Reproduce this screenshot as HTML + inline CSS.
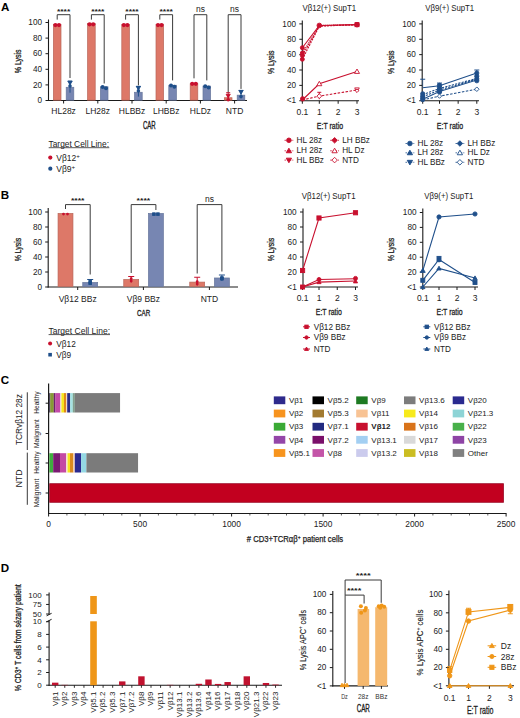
<!DOCTYPE html>
<html><head><meta charset="utf-8"><style>
html,body{margin:0;padding:0;background:#fff;width:520px;height:718px;overflow:hidden}
svg{display:block;font-family:"Liberation Sans", sans-serif}
</style></head><body>
<svg width="520" height="718" viewBox="0 0 520 718" font-family='"Liberation Sans", sans-serif'>
<text x="0.90" y="10.65" font-size="11.6" text-anchor="start" fill="#000" font-weight="bold" >A</text>
<line x1="48.50" y1="19.50" x2="48.50" y2="101.00" stroke="#1a1a1a" stroke-width="1.1"/>
<line x1="48.00" y1="100.50" x2="247.00" y2="100.50" stroke="#1a1a1a" stroke-width="1.1"/>
<line x1="45.50" y1="100.50" x2="48.50" y2="100.50" stroke="#1a1a1a" stroke-width="1"/>
<text x="42.00" y="103.20" font-size="8.2" text-anchor="end" fill="#222" >0</text>
<line x1="45.50" y1="84.90" x2="48.50" y2="84.90" stroke="#1a1a1a" stroke-width="1"/>
<text x="42.00" y="87.60" font-size="8.2" text-anchor="end" fill="#222" >20</text>
<line x1="45.50" y1="69.30" x2="48.50" y2="69.30" stroke="#1a1a1a" stroke-width="1"/>
<text x="42.00" y="72.00" font-size="8.2" text-anchor="end" fill="#222" >40</text>
<line x1="45.50" y1="53.70" x2="48.50" y2="53.70" stroke="#1a1a1a" stroke-width="1"/>
<text x="42.00" y="56.40" font-size="8.2" text-anchor="end" fill="#222" >60</text>
<line x1="45.50" y1="38.10" x2="48.50" y2="38.10" stroke="#1a1a1a" stroke-width="1"/>
<text x="42.00" y="40.80" font-size="8.2" text-anchor="end" fill="#222" >80</text>
<line x1="45.50" y1="22.50" x2="48.50" y2="22.50" stroke="#1a1a1a" stroke-width="1"/>
<text x="42.00" y="25.20" font-size="8.2" text-anchor="end" fill="#222" >100</text>
<text x="20.60" y="61.30" font-size="9.6" text-anchor="middle" fill="#222" stroke="#222" stroke-width="0.3" textLength="23.8" lengthAdjust="spacingAndGlyphs" transform="rotate(-90 20.60 61.30)" >% Lysis</text>
<rect x="53.40" y="24.41" width="7.60" height="75.74" fill="#dd7868" stroke="#b86458" stroke-width="0.7"/>
<rect x="66.20" y="87.28" width="7.60" height="12.87" fill="#7786b2" stroke="#66769c" stroke-width="0.7"/>
<line x1="63.60" y1="100.50" x2="63.60" y2="103.50" stroke="#1a1a1a" stroke-width="1"/>
<text x="63.60" y="114.30" font-size="8.5" text-anchor="middle" fill="#222" >HL28z</text>
<circle cx="55.40" cy="25.06" r="2.1" fill="#c8102e"/>
<circle cx="59.00" cy="25.06" r="2.1" fill="#c8102e"/>
<line x1="70.00" y1="81.23" x2="70.00" y2="92.70" stroke="#1f4f8a" stroke-width="1"/>
<line x1="67.80" y1="81.23" x2="72.20" y2="81.23" stroke="#1f4f8a" stroke-width="1"/>
<polygon points="70.00,84.92 72.19,81.12 67.81,81.12" fill="#1f4f8a" stroke="#1f4f8a" stroke-width="0.9"/>
<circle cx="70.00" cy="85.93" r="1.8" fill="#1f4f8a"/>
<polyline points="57.20,19.60 57.20,14.70 70.00,14.70 70.00,78.00" fill="none" stroke="#3a3a3a" stroke-width="1"/>
<text x="63.60" y="13.50" font-size="8" text-anchor="middle" fill="#222" font-weight="bold" textLength="13.3" lengthAdjust="spacingAndGlyphs" >****</text>
<rect x="87.60" y="23.63" width="7.60" height="76.52" fill="#dd7868" stroke="#b86458" stroke-width="0.7"/>
<rect x="100.40" y="86.81" width="7.60" height="13.34" fill="#7786b2" stroke="#66769c" stroke-width="0.7"/>
<line x1="97.80" y1="100.50" x2="97.80" y2="103.50" stroke="#1a1a1a" stroke-width="1"/>
<text x="97.80" y="114.30" font-size="8.5" text-anchor="middle" fill="#222" >LH28z</text>
<circle cx="89.60" cy="24.28" r="2.1" fill="#c8102e"/>
<circle cx="93.20" cy="24.28" r="2.1" fill="#c8102e"/>
<circle cx="102.60" cy="86.96" r="2.0" fill="#1f4f8a"/>
<circle cx="106.00" cy="88.26" r="2.0" fill="#1f4f8a"/>
<polyline points="91.40,19.60 91.40,14.70 104.20,14.70 104.20,83.50" fill="none" stroke="#3a3a3a" stroke-width="1"/>
<text x="97.80" y="13.50" font-size="8" text-anchor="middle" fill="#222" font-weight="bold" textLength="13.3" lengthAdjust="spacingAndGlyphs" >****</text>
<rect x="121.80" y="24.41" width="7.60" height="75.74" fill="#dd7868" stroke="#b86458" stroke-width="0.7"/>
<rect x="134.60" y="92.27" width="7.60" height="7.88" fill="#7786b2" stroke="#66769c" stroke-width="0.7"/>
<line x1="132.00" y1="100.50" x2="132.00" y2="103.50" stroke="#1a1a1a" stroke-width="1"/>
<text x="132.00" y="114.30" font-size="8.5" text-anchor="middle" fill="#222" >HLBBz</text>
<circle cx="123.80" cy="25.06" r="2.1" fill="#c8102e"/>
<circle cx="127.40" cy="25.06" r="2.1" fill="#c8102e"/>
<line x1="138.40" y1="86.46" x2="138.40" y2="96.60" stroke="#1f4f8a" stroke-width="1"/>
<line x1="136.20" y1="86.46" x2="140.60" y2="86.46" stroke="#1f4f8a" stroke-width="1"/>
<polygon points="138.40,90.14 140.59,86.34 136.22,86.34" fill="#1f4f8a" stroke="#1f4f8a" stroke-width="0.9"/>
<circle cx="138.40" cy="90.92" r="1.8" fill="#1f4f8a"/>
<polyline points="125.60,19.60 125.60,14.70 138.40,14.70 138.40,85.40" fill="none" stroke="#3a3a3a" stroke-width="1"/>
<text x="132.00" y="13.50" font-size="8" text-anchor="middle" fill="#222" font-weight="bold" textLength="13.3" lengthAdjust="spacingAndGlyphs" >****</text>
<rect x="156.00" y="24.41" width="7.60" height="75.74" fill="#dd7868" stroke="#b86458" stroke-width="0.7"/>
<rect x="168.80" y="85.25" width="7.60" height="14.90" fill="#7786b2" stroke="#66769c" stroke-width="0.7"/>
<line x1="166.20" y1="100.50" x2="166.20" y2="103.50" stroke="#1a1a1a" stroke-width="1"/>
<text x="166.20" y="114.30" font-size="8.5" text-anchor="middle" fill="#222" >LHBBz</text>
<circle cx="158.00" cy="25.06" r="2.1" fill="#c8102e"/>
<circle cx="161.60" cy="25.06" r="2.1" fill="#c8102e"/>
<circle cx="171.00" cy="85.40" r="2.0" fill="#1f4f8a"/>
<circle cx="174.40" cy="86.70" r="2.0" fill="#1f4f8a"/>
<polyline points="159.80,19.60 159.80,14.70 172.60,14.70 172.60,80.40" fill="none" stroke="#3a3a3a" stroke-width="1"/>
<text x="166.20" y="13.50" font-size="8" text-anchor="middle" fill="#222" font-weight="bold" textLength="13.3" lengthAdjust="spacingAndGlyphs" >****</text>
<rect x="190.20" y="83.69" width="7.60" height="16.46" fill="#dd7868" stroke="#b86458" stroke-width="0.7"/>
<rect x="203.00" y="86.03" width="7.60" height="14.12" fill="#7786b2" stroke="#66769c" stroke-width="0.7"/>
<line x1="200.40" y1="100.50" x2="200.40" y2="103.50" stroke="#1a1a1a" stroke-width="1"/>
<text x="200.40" y="114.30" font-size="8.5" text-anchor="middle" fill="#222" >HLDz</text>
<circle cx="192.20" cy="83.84" r="2.1" fill="#c8102e"/>
<circle cx="195.80" cy="83.84" r="2.1" fill="#c8102e"/>
<circle cx="205.20" cy="86.18" r="2.0" fill="#1f4f8a"/>
<circle cx="208.60" cy="87.48" r="2.0" fill="#1f4f8a"/>
<polyline points="194.00,78.34 194.00,14.70 206.80,14.70 206.80,80.40" fill="none" stroke="#3a3a3a" stroke-width="1"/>
<text x="200.40" y="11.70" font-size="8.5" text-anchor="middle" fill="#222" >ns</text>
<rect x="224.40" y="97.73" width="7.60" height="2.42" fill="#dd7868" stroke="#b86458" stroke-width="0.7"/>
<rect x="237.20" y="95.16" width="7.60" height="4.99" fill="#7786b2" stroke="#66769c" stroke-width="0.7"/>
<line x1="234.60" y1="100.50" x2="234.60" y2="103.50" stroke="#1a1a1a" stroke-width="1"/>
<text x="234.60" y="114.30" font-size="8.5" text-anchor="middle" fill="#222" >NTD</text>
<line x1="228.20" y1="92.70" x2="228.20" y2="99.72" stroke="#c8102e" stroke-width="1"/>
<line x1="226.20" y1="92.70" x2="230.20" y2="92.70" stroke="#c8102e" stroke-width="1"/>
<polygon points="228.20,97.89 230.27,94.29 226.13,94.29" fill="#c8102e" stroke="#c8102e" stroke-width="0.9"/>
<circle cx="228.20" cy="99.72" r="1.8" fill="#c8102e"/>
<line x1="241.00" y1="90.52" x2="241.00" y2="98.16" stroke="#1f4f8a" stroke-width="1"/>
<line x1="238.80" y1="90.52" x2="243.20" y2="90.52" stroke="#1f4f8a" stroke-width="1"/>
<polygon points="241.00,94.20 243.19,90.40 238.81,90.40" fill="#1f4f8a" stroke="#1f4f8a" stroke-width="0.9"/>
<circle cx="241.00" cy="96.60" r="1.8" fill="#1f4f8a"/>
<polyline points="228.20,92.38 228.20,14.70 241.00,14.70 241.00,88.90" fill="none" stroke="#3a3a3a" stroke-width="1"/>
<text x="234.60" y="11.70" font-size="8.5" text-anchor="middle" fill="#222" >ns</text>
<text x="149.30" y="129.40" font-size="10.3" text-anchor="middle" fill="#222" stroke="#222" stroke-width="0.35" textLength="12.8" lengthAdjust="spacingAndGlyphs" >CAR</text>
<text x="48.50" y="147.30" font-size="8.5" text-anchor="start" fill="#222" textLength="60.5" lengthAdjust="spacingAndGlyphs" >Target Cell Line:</text>
<line x1="48.70" y1="147.70" x2="109.30" y2="147.70" stroke="#222" stroke-width="0.75"/>
<circle cx="50.30" cy="157.60" r="2.1" fill="#c8102e"/>
<text x="56.30" y="161.00" font-size="8.5" text-anchor="start" fill="#222" >V&#946;12<tspan font-size="6.2" dy="-3.2">+</tspan></text>
<circle cx="50.30" cy="168.70" r="2.1" fill="#1f4f8a"/>
<text x="56.30" y="171.80" font-size="8.5" text-anchor="start" fill="#222" >V&#946;9<tspan font-size="6.2" dy="-3.2">+</tspan></text>
<line x1="302.30" y1="20.60" x2="302.30" y2="101.25" stroke="#1a1a1a" stroke-width="1.1"/>
<line x1="301.80" y1="100.75" x2="359.00" y2="100.75" stroke="#1a1a1a" stroke-width="1.1"/>
<line x1="299.30" y1="100.75" x2="302.30" y2="100.75" stroke="#1a1a1a" stroke-width="1"/>
<text x="296.00" y="103.45" font-size="8.2" text-anchor="end" fill="#222" >&lt;1</text>
<line x1="299.30" y1="85.38" x2="302.30" y2="85.38" stroke="#1a1a1a" stroke-width="1"/>
<text x="296.00" y="88.08" font-size="8.2" text-anchor="end" fill="#222" >20</text>
<line x1="299.30" y1="70.01" x2="302.30" y2="70.01" stroke="#1a1a1a" stroke-width="1"/>
<text x="296.00" y="72.71" font-size="8.2" text-anchor="end" fill="#222" >40</text>
<line x1="299.30" y1="54.64" x2="302.30" y2="54.64" stroke="#1a1a1a" stroke-width="1"/>
<text x="296.00" y="57.34" font-size="8.2" text-anchor="end" fill="#222" >60</text>
<line x1="299.30" y1="39.27" x2="302.30" y2="39.27" stroke="#1a1a1a" stroke-width="1"/>
<text x="296.00" y="41.97" font-size="8.2" text-anchor="end" fill="#222" >80</text>
<line x1="299.30" y1="23.90" x2="302.30" y2="23.90" stroke="#1a1a1a" stroke-width="1"/>
<text x="296.00" y="26.60" font-size="8.2" text-anchor="end" fill="#222" >100</text>
<line x1="302.34" y1="100.75" x2="302.34" y2="103.75" stroke="#1a1a1a" stroke-width="1"/>
<text x="302.34" y="114.80" font-size="8.5" text-anchor="middle" fill="#222" >0.1</text>
<line x1="319.30" y1="100.75" x2="319.30" y2="103.75" stroke="#1a1a1a" stroke-width="1"/>
<text x="319.30" y="114.80" font-size="8.5" text-anchor="middle" fill="#222" >1</text>
<line x1="338.15" y1="100.75" x2="338.15" y2="103.75" stroke="#1a1a1a" stroke-width="1"/>
<text x="338.15" y="114.80" font-size="8.5" text-anchor="middle" fill="#222" >2</text>
<line x1="357.00" y1="100.75" x2="357.00" y2="103.75" stroke="#1a1a1a" stroke-width="1"/>
<text x="357.00" y="114.80" font-size="8.5" text-anchor="middle" fill="#222" >3</text>
<text x="329.30" y="11.10" font-size="8.3" text-anchor="middle" fill="#222" textLength="53.8" lengthAdjust="spacingAndGlyphs" >V&#946;12(+) SupT1</text>
<text x="274.20" y="62.30" font-size="9.6" text-anchor="middle" fill="#222" stroke="#222" stroke-width="0.3" textLength="23.5" lengthAdjust="spacingAndGlyphs" transform="rotate(-90 274.20 62.30)" >% Lysis</text>
<polyline points="302.34,47.72 319.30,25.44 357.00,24.67" fill="none" stroke="#c8102e" stroke-width="1.1"/>
<polyline points="302.34,55.41 319.30,25.82 357.00,24.67" fill="none" stroke="#c8102e" stroke-width="1.1" stroke-dasharray="2,1"/>
<polyline points="302.34,59.25 319.30,26.21 357.00,24.67" fill="none" stroke="#c8102e" stroke-width="1.1" stroke-dasharray="2,1"/>
<polyline points="302.34,53.10 319.30,25.44 357.00,24.67" fill="none" stroke="#c8102e" stroke-width="1.1" stroke-dasharray="1,1"/>
<circle cx="302.34" cy="47.72" r="2.0" fill="#c8102e" stroke="#c8102e" stroke-width="0.9"/>
<circle cx="302.34" cy="55.41" r="2.0" fill="#c8102e" stroke="#c8102e" stroke-width="0.9"/>
<circle cx="302.34" cy="59.25" r="2.0" fill="#c8102e" stroke="#c8102e" stroke-width="0.9"/>
<circle cx="302.34" cy="53.10" r="2.0" fill="#c8102e" stroke="#c8102e" stroke-width="0.9"/>
<circle cx="319.30" cy="25.44" r="2.3" fill="#c8102e" stroke="#c8102e" stroke-width="0.9"/>
<rect x="355.00" y="22.67" width="4.00" height="4.00" fill="#c8102e" stroke="#c8102e" stroke-width="0.9"/>
<circle cx="357.00" cy="24.67" r="2.3" fill="#c8102e" stroke="#c8102e" stroke-width="0.9"/>
<polyline points="302.34,99.98 319.30,83.84 357.00,71.55" fill="none" stroke="#c8102e" stroke-width="1.1"/>
<polyline points="302.34,99.98 319.30,96.14 357.00,89.99" fill="none" stroke="#c8102e" stroke-width="1.1" stroke-dasharray="2.5,1.5"/>
<circle cx="302.64" cy="98.83" r="2.2" fill="#c8102e" stroke="#c8102e" stroke-width="0.9"/>
<polygon points="319.30,81.31 321.83,85.71 316.77,85.71" fill="#fff" stroke="#c8102e" stroke-width="0.9"/>
<polygon points="357.00,69.02 359.53,73.42 354.47,73.42" fill="#fff" stroke="#c8102e" stroke-width="0.9"/>
<line x1="319.30" y1="92.30" x2="319.30" y2="99.21" stroke="#c8102e" stroke-width="1"/>
<line x1="317.30" y1="92.30" x2="321.30" y2="92.30" stroke="#c8102e" stroke-width="1"/>
<polygon points="319.30,93.74 321.70,96.14 319.30,98.54 316.90,96.14" fill="#fff" stroke="#c8102e" stroke-width="0.9"/>
<polygon points="357.00,91.91 359.30,87.91 354.70,87.91" fill="#fff" stroke="#c8102e" stroke-width="0.9"/>
<polygon points="357.00,88.96 358.80,90.76 357.00,92.56 355.20,90.76" fill="#fff" stroke="#c8102e" stroke-width="0.9"/>
<text x="329.95" y="129.00" font-size="9.8" text-anchor="middle" fill="#222" stroke="#222" stroke-width="0.3" textLength="26.3" lengthAdjust="spacingAndGlyphs" >E:T ratio</text>
<line x1="284.50" y1="140.30" x2="293.30" y2="140.30" stroke="#c8102e" stroke-width="0.8" stroke-dasharray="1.6,1"/>
<circle cx="288.90" cy="140.30" r="2.3" fill="#c8102e" stroke="#c8102e" stroke-width="0.9"/>
<text x="296.50" y="142.90" font-size="8.2" text-anchor="start" fill="#222" >HL 28z</text>
<line x1="284.50" y1="150.80" x2="293.30" y2="150.80" stroke="#c8102e" stroke-width="0.8" stroke-dasharray="1.6,1"/>
<polygon points="288.90,148.16 291.54,152.76 286.25,152.76" fill="#c8102e" stroke="#c8102e" stroke-width="0.9"/>
<text x="296.50" y="153.40" font-size="8.2" text-anchor="start" fill="#222" >LH 28z</text>
<line x1="284.50" y1="160.10" x2="293.30" y2="160.10" stroke="#c8102e" stroke-width="0.8" stroke-dasharray="1.6,1"/>
<polygon points="288.90,162.75 291.54,158.15 286.25,158.15" fill="#c8102e" stroke="#c8102e" stroke-width="0.9"/>
<text x="296.50" y="162.70" font-size="8.2" text-anchor="start" fill="#222" >HL BBz</text>
<line x1="330.20" y1="140.30" x2="339.00" y2="140.30" stroke="#c8102e" stroke-width="0.8" stroke-dasharray="1.6,1"/>
<polygon points="334.60,137.54 337.36,140.30 334.60,143.06 331.84,140.30" fill="#c8102e" stroke="#c8102e" stroke-width="0.9"/>
<text x="342.20" y="142.90" font-size="8.2" text-anchor="start" fill="#222" >LH BBz</text>
<line x1="330.20" y1="150.80" x2="339.00" y2="150.80" stroke="#c8102e" stroke-width="0.8" stroke-dasharray="1.6,1"/>
<polygon points="334.60,148.16 337.24,152.76 331.95,152.76" fill="#fff" stroke="#c8102e" stroke-width="0.9"/>
<text x="342.20" y="153.40" font-size="8.2" text-anchor="start" fill="#222" >HL Dz</text>
<line x1="330.20" y1="160.10" x2="339.00" y2="160.10" stroke="#c8102e" stroke-width="0.8" stroke-dasharray="1.6,1"/>
<polygon points="334.60,157.34 337.36,160.10 334.60,162.86 331.84,160.10" fill="#fff" stroke="#c8102e" stroke-width="0.9"/>
<text x="342.20" y="162.70" font-size="8.2" text-anchor="start" fill="#222" >NTD</text>
<line x1="422.20" y1="20.60" x2="422.20" y2="101.25" stroke="#1a1a1a" stroke-width="1.1"/>
<line x1="421.70" y1="100.75" x2="479.00" y2="100.75" stroke="#1a1a1a" stroke-width="1.1"/>
<line x1="419.20" y1="100.75" x2="422.20" y2="100.75" stroke="#1a1a1a" stroke-width="1"/>
<text x="415.90" y="103.45" font-size="8.2" text-anchor="end" fill="#222" >&lt;1</text>
<line x1="419.20" y1="85.38" x2="422.20" y2="85.38" stroke="#1a1a1a" stroke-width="1"/>
<text x="415.90" y="88.08" font-size="8.2" text-anchor="end" fill="#222" >20</text>
<line x1="419.20" y1="70.01" x2="422.20" y2="70.01" stroke="#1a1a1a" stroke-width="1"/>
<text x="415.90" y="72.71" font-size="8.2" text-anchor="end" fill="#222" >40</text>
<line x1="419.20" y1="54.64" x2="422.20" y2="54.64" stroke="#1a1a1a" stroke-width="1"/>
<text x="415.90" y="57.34" font-size="8.2" text-anchor="end" fill="#222" >60</text>
<line x1="419.20" y1="39.27" x2="422.20" y2="39.27" stroke="#1a1a1a" stroke-width="1"/>
<text x="415.90" y="41.97" font-size="8.2" text-anchor="end" fill="#222" >80</text>
<line x1="419.20" y1="23.90" x2="422.20" y2="23.90" stroke="#1a1a1a" stroke-width="1"/>
<text x="415.90" y="26.60" font-size="8.2" text-anchor="end" fill="#222" >100</text>
<line x1="422.71" y1="100.75" x2="422.71" y2="103.75" stroke="#1a1a1a" stroke-width="1"/>
<text x="422.71" y="114.80" font-size="8.5" text-anchor="middle" fill="#222" >0.1</text>
<line x1="439.50" y1="100.75" x2="439.50" y2="103.75" stroke="#1a1a1a" stroke-width="1"/>
<text x="439.50" y="114.80" font-size="8.5" text-anchor="middle" fill="#222" >1</text>
<line x1="458.15" y1="100.75" x2="458.15" y2="103.75" stroke="#1a1a1a" stroke-width="1"/>
<text x="458.15" y="114.80" font-size="8.5" text-anchor="middle" fill="#222" >2</text>
<line x1="476.80" y1="100.75" x2="476.80" y2="103.75" stroke="#1a1a1a" stroke-width="1"/>
<text x="476.80" y="114.80" font-size="8.5" text-anchor="middle" fill="#222" >3</text>
<text x="449.70" y="11.10" font-size="8.3" text-anchor="middle" fill="#222" textLength="49" lengthAdjust="spacingAndGlyphs" >V&#946;9(+) SupT1</text>
<text x="394.20" y="62.30" font-size="9.6" text-anchor="middle" fill="#222" stroke="#222" stroke-width="0.3" textLength="23.5" lengthAdjust="spacingAndGlyphs" transform="rotate(-90 394.20 62.30)" >% Lysis</text>
<polyline points="422.71,87.69 439.50,85.76 476.80,73.08" fill="none" stroke="#1f4f8a" stroke-width="1.1"/>
<polyline points="422.71,94.60 439.50,88.45 476.80,78.46" fill="none" stroke="#1f4f8a" stroke-width="1.1" stroke-dasharray="2.2,1.2"/>
<polyline points="422.71,96.91 439.50,89.99 476.80,79.23" fill="none" stroke="#1f4f8a" stroke-width="1.1" stroke-dasharray="2.2,1.2"/>
<polyline points="422.71,99.21 439.50,91.53 476.80,80.00" fill="none" stroke="#1f4f8a" stroke-width="1.1"/>
<polyline points="422.71,99.98 439.50,96.14 476.80,89.22" fill="none" stroke="#1f4f8a" stroke-width="1.1" stroke-dasharray="2.5,1.5"/>
<line x1="420.21" y1="79.23" x2="425.21" y2="79.23" stroke="#1f4f8a" stroke-width="1"/>
<line x1="422.71" y1="79.23" x2="422.71" y2="86.92" stroke="#1f4f8a" stroke-width="0.6"/>
<line x1="439.50" y1="83.07" x2="439.50" y2="93.06" stroke="#1f4f8a" stroke-width="1"/>
<line x1="437.00" y1="83.07" x2="442.00" y2="83.07" stroke="#1f4f8a" stroke-width="1"/>
<line x1="476.80" y1="70.01" x2="476.80" y2="82.31" stroke="#1f4f8a" stroke-width="1"/>
<line x1="474.30" y1="70.01" x2="479.30" y2="70.01" stroke="#1f4f8a" stroke-width="1"/>
<circle cx="422.71" cy="93.83" r="2.1" fill="#1f4f8a" stroke="#1f4f8a" stroke-width="0.9"/>
<circle cx="422.71" cy="96.14" r="2.1" fill="#1f4f8a" stroke="#1f4f8a" stroke-width="0.9"/>
<circle cx="422.71" cy="98.06" r="2.1" fill="#1f4f8a" stroke="#1f4f8a" stroke-width="0.9"/>
<circle cx="422.71" cy="99.60" r="2.1" fill="#1f4f8a" stroke="#1f4f8a" stroke-width="0.9"/>
<circle cx="439.50" cy="85.38" r="2.2" fill="#1f4f8a" stroke="#1f4f8a" stroke-width="0.9"/>
<circle cx="439.50" cy="87.69" r="2.2" fill="#1f4f8a" stroke="#1f4f8a" stroke-width="0.9"/>
<circle cx="439.50" cy="89.99" r="2.2" fill="#1f4f8a" stroke="#1f4f8a" stroke-width="0.9"/>
<circle cx="439.50" cy="91.91" r="2.2" fill="#1f4f8a" stroke="#1f4f8a" stroke-width="0.9"/>
<polygon points="439.50,93.98 441.66,96.14 439.50,98.30 437.34,96.14" fill="#fff" stroke="#1f4f8a" stroke-width="0.9"/>
<circle cx="476.80" cy="73.08" r="2.1" fill="#1f4f8a" stroke="#1f4f8a" stroke-width="0.9"/>
<circle cx="476.80" cy="76.16" r="2.1" fill="#1f4f8a" stroke="#1f4f8a" stroke-width="0.9"/>
<circle cx="476.80" cy="78.85" r="2.1" fill="#1f4f8a" stroke="#1f4f8a" stroke-width="0.9"/>
<circle cx="476.80" cy="80.77" r="2.1" fill="#1f4f8a" stroke="#1f4f8a" stroke-width="0.9"/>
<polygon points="476.80,86.94 479.08,89.22 476.80,91.50 474.52,89.22" fill="#fff" stroke="#1f4f8a" stroke-width="0.9"/>
<text x="450.00" y="129.00" font-size="9.8" text-anchor="middle" fill="#222" stroke="#222" stroke-width="0.3" textLength="26.4" lengthAdjust="spacingAndGlyphs" >E:T ratio</text>
<line x1="405.50" y1="143.50" x2="414.30" y2="143.50" stroke="#1f4f8a" stroke-width="0.8" stroke-dasharray="1.6,1"/>
<circle cx="409.90" cy="143.50" r="2.3" fill="#1f4f8a" stroke="#1f4f8a" stroke-width="0.9"/>
<text x="417.50" y="146.10" font-size="8.2" text-anchor="start" fill="#222" >HL 28z</text>
<line x1="405.50" y1="152.80" x2="414.30" y2="152.80" stroke="#1f4f8a" stroke-width="0.8" stroke-dasharray="1.6,1"/>
<polygon points="409.90,150.16 412.54,154.76 407.25,154.76" fill="#1f4f8a" stroke="#1f4f8a" stroke-width="0.9"/>
<text x="417.50" y="155.40" font-size="8.2" text-anchor="start" fill="#222" >LH 28z</text>
<line x1="405.50" y1="162.30" x2="414.30" y2="162.30" stroke="#1f4f8a" stroke-width="0.8" stroke-dasharray="1.6,1"/>
<polygon points="409.90,164.95 412.54,160.34 407.25,160.34" fill="#1f4f8a" stroke="#1f4f8a" stroke-width="0.9"/>
<text x="417.50" y="164.90" font-size="8.2" text-anchor="start" fill="#222" >HL BBz</text>
<line x1="455.50" y1="143.50" x2="464.30" y2="143.50" stroke="#1f4f8a" stroke-width="0.8" stroke-dasharray="1.6,1"/>
<polygon points="459.90,140.74 462.66,143.50 459.90,146.26 457.14,143.50" fill="#1f4f8a" stroke="#1f4f8a" stroke-width="0.9"/>
<text x="467.50" y="146.10" font-size="8.2" text-anchor="start" fill="#222" >LH BBz</text>
<line x1="455.50" y1="152.80" x2="464.30" y2="152.80" stroke="#1f4f8a" stroke-width="0.8" stroke-dasharray="1.6,1"/>
<polygon points="459.90,150.16 462.54,154.76 457.25,154.76" fill="#fff" stroke="#1f4f8a" stroke-width="0.9"/>
<text x="467.50" y="155.40" font-size="8.2" text-anchor="start" fill="#222" >HL Dz</text>
<line x1="455.50" y1="162.30" x2="464.30" y2="162.30" stroke="#1f4f8a" stroke-width="0.8" stroke-dasharray="1.6,1"/>
<polygon points="459.90,159.54 462.66,162.30 459.90,165.06 457.14,162.30" fill="#fff" stroke="#1f4f8a" stroke-width="0.9"/>
<text x="467.50" y="164.90" font-size="8.2" text-anchor="start" fill="#222" >NTD</text>
<text x="0.70" y="198.60" font-size="11.6" text-anchor="start" fill="#000" font-weight="bold" >B</text>
<line x1="48.20" y1="208.00" x2="48.20" y2="287.50" stroke="#1a1a1a" stroke-width="1.1"/>
<line x1="47.70" y1="287.00" x2="238.00" y2="287.00" stroke="#1a1a1a" stroke-width="1.1"/>
<line x1="45.20" y1="287.00" x2="48.20" y2="287.00" stroke="#1a1a1a" stroke-width="1"/>
<text x="42.00" y="289.70" font-size="8.2" text-anchor="end" fill="#222" >0</text>
<line x1="45.20" y1="272.00" x2="48.20" y2="272.00" stroke="#1a1a1a" stroke-width="1"/>
<text x="42.00" y="274.70" font-size="8.2" text-anchor="end" fill="#222" >20</text>
<line x1="45.20" y1="257.00" x2="48.20" y2="257.00" stroke="#1a1a1a" stroke-width="1"/>
<text x="42.00" y="259.70" font-size="8.2" text-anchor="end" fill="#222" >40</text>
<line x1="45.20" y1="242.00" x2="48.20" y2="242.00" stroke="#1a1a1a" stroke-width="1"/>
<text x="42.00" y="244.70" font-size="8.2" text-anchor="end" fill="#222" >60</text>
<line x1="45.20" y1="227.00" x2="48.20" y2="227.00" stroke="#1a1a1a" stroke-width="1"/>
<text x="42.00" y="229.70" font-size="8.2" text-anchor="end" fill="#222" >80</text>
<line x1="45.20" y1="212.00" x2="48.20" y2="212.00" stroke="#1a1a1a" stroke-width="1"/>
<text x="42.00" y="214.70" font-size="8.2" text-anchor="end" fill="#222" >100</text>
<text x="20.60" y="249.50" font-size="9.6" text-anchor="middle" fill="#222" stroke="#222" stroke-width="0.3" textLength="23.5" lengthAdjust="spacingAndGlyphs" transform="rotate(-90 20.60 249.50)" >% Lysis</text>
<rect x="58.05" y="213.47" width="14.90" height="73.17" fill="#dd7868" stroke="#b86458" stroke-width="0.7"/>
<rect x="82.75" y="282.48" width="14.90" height="4.17" fill="#7786b2" stroke="#66769c" stroke-width="0.7"/>
<line x1="77.70" y1="287.00" x2="77.70" y2="290.00" stroke="#1a1a1a" stroke-width="1"/>
<text x="77.70" y="301.80" font-size="8.5" text-anchor="middle" fill="#222" >V&#946;12 BBz</text>
<circle cx="63.50" cy="214.12" r="1.4" fill="#c8102e"/>
<circle cx="67.50" cy="214.12" r="1.4" fill="#c8102e"/>
<line x1="90.20" y1="279.50" x2="90.20" y2="284.75" stroke="#1f4f8a" stroke-width="1"/>
<line x1="87.20" y1="279.50" x2="93.20" y2="279.50" stroke="#1f4f8a" stroke-width="1"/>
<rect x="88.90" y="281.95" width="2.60" height="2.60" fill="#1f4f8a" stroke="#1f4f8a" stroke-width="0.9"/>
<rect x="88.90" y="280.45" width="2.60" height="2.60" fill="#1f4f8a" stroke="#1f4f8a" stroke-width="0.9"/>
<polyline points="65.50,209.00 65.50,204.60 90.20,204.60 90.20,274.50" fill="none" stroke="#3a3a3a" stroke-width="1"/>
<text x="77.70" y="203.20" font-size="8" text-anchor="middle" fill="#222" font-weight="bold" textLength="13.6" lengthAdjust="spacingAndGlyphs" >****</text>
<rect x="123.75" y="279.48" width="14.90" height="7.17" fill="#dd7868" stroke="#b86458" stroke-width="0.7"/>
<rect x="148.45" y="213.47" width="14.90" height="73.17" fill="#7786b2" stroke="#66769c" stroke-width="0.7"/>
<line x1="143.40" y1="287.00" x2="143.40" y2="290.00" stroke="#1a1a1a" stroke-width="1"/>
<text x="143.40" y="301.80" font-size="8.5" text-anchor="middle" fill="#222" >V&#946;9 BBz</text>
<line x1="131.20" y1="276.50" x2="131.20" y2="282.50" stroke="#c8102e" stroke-width="1"/>
<line x1="128.20" y1="276.50" x2="134.20" y2="276.50" stroke="#c8102e" stroke-width="1"/>
<circle cx="131.20" cy="281.00" r="1.4" fill="#c8102e"/>
<circle cx="131.20" cy="278.75" r="1.4" fill="#c8102e"/>
<rect x="152.60" y="212.82" width="2.60" height="2.60" fill="#1f4f8a" stroke="#1f4f8a" stroke-width="0.9"/>
<rect x="156.60" y="212.82" width="2.60" height="2.60" fill="#1f4f8a" stroke="#1f4f8a" stroke-width="0.9"/>
<polyline points="131.20,273.00 131.20,204.60 155.90,204.60 155.90,210.00" fill="none" stroke="#3a3a3a" stroke-width="1"/>
<text x="143.40" y="203.20" font-size="8" text-anchor="middle" fill="#222" font-weight="bold" textLength="13.6" lengthAdjust="spacingAndGlyphs" >****</text>
<rect x="189.75" y="282.10" width="14.90" height="4.55" fill="#dd7868" stroke="#b86458" stroke-width="0.7"/>
<rect x="214.45" y="277.98" width="14.90" height="8.68" fill="#7786b2" stroke="#66769c" stroke-width="0.7"/>
<line x1="209.40" y1="287.00" x2="209.40" y2="290.00" stroke="#1a1a1a" stroke-width="1"/>
<text x="209.40" y="301.80" font-size="8.5" text-anchor="middle" fill="#222" >NTD</text>
<line x1="197.20" y1="277.25" x2="197.20" y2="285.50" stroke="#c8102e" stroke-width="1"/>
<line x1="194.20" y1="277.25" x2="200.20" y2="277.25" stroke="#c8102e" stroke-width="1"/>
<circle cx="197.20" cy="281.75" r="1.4" fill="#c8102e"/>
<circle cx="197.20" cy="284.00" r="1.4" fill="#c8102e"/>
<line x1="221.90" y1="275.00" x2="221.90" y2="281.00" stroke="#1f4f8a" stroke-width="1"/>
<line x1="218.90" y1="275.00" x2="224.90" y2="275.00" stroke="#1f4f8a" stroke-width="1"/>
<rect x="220.60" y="276.70" width="2.60" height="2.60" fill="#1f4f8a" stroke="#1f4f8a" stroke-width="0.9"/>
<rect x="220.60" y="277.45" width="2.60" height="2.60" fill="#1f4f8a" stroke="#1f4f8a" stroke-width="0.9"/>
<polyline points="197.20,273.50 197.20,204.60 221.90,204.60 221.90,271.50" fill="none" stroke="#3a3a3a" stroke-width="1"/>
<text x="209.40" y="201.80" font-size="8.5" text-anchor="middle" fill="#222" >ns</text>
<text x="143.60" y="316.00" font-size="9.9" text-anchor="middle" fill="#222" stroke="#222" stroke-width="0.35" textLength="13.3" lengthAdjust="spacingAndGlyphs" >CAR</text>
<text x="48.50" y="333.60" font-size="8.5" text-anchor="start" fill="#222" textLength="61.5" lengthAdjust="spacingAndGlyphs" >Target Cell Line:</text>
<line x1="48.60" y1="334.60" x2="110.00" y2="334.60" stroke="#222" stroke-width="0.75"/>
<circle cx="50.10" cy="343.60" r="2.0" fill="#c8102e"/>
<text x="56.30" y="346.60" font-size="8.3" text-anchor="start" fill="#222" >V&#946;12</text>
<rect x="48.30" y="352.90" width="3.60" height="3.60" fill="#1f4f8a"/>
<text x="56.30" y="357.60" font-size="8.3" text-anchor="start" fill="#222" >V&#946;9</text>
<line x1="303.00" y1="208.50" x2="303.00" y2="287.50" stroke="#1a1a1a" stroke-width="1.1"/>
<line x1="302.50" y1="287.00" x2="358.00" y2="287.00" stroke="#1a1a1a" stroke-width="1.1"/>
<line x1="300.00" y1="287.00" x2="303.00" y2="287.00" stroke="#1a1a1a" stroke-width="1"/>
<text x="296.70" y="289.70" font-size="8.2" text-anchor="end" fill="#222" >&lt;1</text>
<line x1="300.00" y1="272.00" x2="303.00" y2="272.00" stroke="#1a1a1a" stroke-width="1"/>
<text x="296.70" y="274.70" font-size="8.2" text-anchor="end" fill="#222" >20</text>
<line x1="300.00" y1="257.00" x2="303.00" y2="257.00" stroke="#1a1a1a" stroke-width="1"/>
<text x="296.70" y="259.70" font-size="8.2" text-anchor="end" fill="#222" >40</text>
<line x1="300.00" y1="242.00" x2="303.00" y2="242.00" stroke="#1a1a1a" stroke-width="1"/>
<text x="296.70" y="244.70" font-size="8.2" text-anchor="end" fill="#222" >60</text>
<line x1="300.00" y1="227.00" x2="303.00" y2="227.00" stroke="#1a1a1a" stroke-width="1"/>
<text x="296.70" y="229.70" font-size="8.2" text-anchor="end" fill="#222" >80</text>
<line x1="300.00" y1="212.00" x2="303.00" y2="212.00" stroke="#1a1a1a" stroke-width="1"/>
<text x="296.70" y="214.70" font-size="8.2" text-anchor="end" fill="#222" >100</text>
<line x1="302.57" y1="287.00" x2="302.57" y2="290.00" stroke="#1a1a1a" stroke-width="1"/>
<text x="302.57" y="301.30" font-size="8.5" text-anchor="middle" fill="#222" >0.1</text>
<line x1="319.00" y1="287.00" x2="319.00" y2="290.00" stroke="#1a1a1a" stroke-width="1"/>
<text x="319.00" y="301.30" font-size="8.5" text-anchor="middle" fill="#222" >1</text>
<line x1="337.25" y1="287.00" x2="337.25" y2="290.00" stroke="#1a1a1a" stroke-width="1"/>
<text x="337.25" y="301.30" font-size="8.5" text-anchor="middle" fill="#222" >2</text>
<line x1="355.50" y1="287.00" x2="355.50" y2="290.00" stroke="#1a1a1a" stroke-width="1"/>
<text x="355.50" y="301.30" font-size="8.5" text-anchor="middle" fill="#222" >3</text>
<text x="328.65" y="199.20" font-size="8.3" text-anchor="middle" fill="#222" textLength="53.8" lengthAdjust="spacingAndGlyphs" >V&#946;12(+) SupT1</text>
<text x="274.00" y="249.50" font-size="9.6" text-anchor="middle" fill="#222" stroke="#222" stroke-width="0.3" textLength="23.5" lengthAdjust="spacingAndGlyphs" transform="rotate(-90 274.00 249.50)" >% Lysis</text>
<polyline points="302.57,270.50 319.00,218.00 355.50,212.75" fill="none" stroke="#c8102e" stroke-width="1.1"/>
<polyline points="302.57,287.00 319.00,279.50 355.50,278.75" fill="none" stroke="#c8102e" stroke-width="1.1"/>
<polyline points="302.57,287.00 319.00,282.12 355.50,281.00" fill="none" stroke="#c8102e" stroke-width="1.1"/>
<rect x="300.47" y="268.40" width="4.20" height="4.20" fill="#c8102e" stroke="#c8102e" stroke-width="0.9"/>
<rect x="316.90" y="215.90" width="4.20" height="4.20" fill="#c8102e" stroke="#c8102e" stroke-width="0.9"/>
<rect x="353.40" y="210.65" width="4.20" height="4.20" fill="#c8102e" stroke="#c8102e" stroke-width="0.9"/>
<rect x="300.57" y="285.00" width="4.00" height="4.00" fill="#c8102e" stroke="#c8102e" stroke-width="0.9"/>
<circle cx="319.00" cy="279.50" r="2.0" fill="#c8102e" stroke="#c8102e" stroke-width="0.9"/>
<circle cx="355.50" cy="278.38" r="2.0" fill="#c8102e" stroke="#c8102e" stroke-width="0.9"/>
<polygon points="319.00,280.06 321.07,283.65 316.93,283.65" fill="#c8102e" stroke="#c8102e" stroke-width="0.9"/>
<polygon points="355.50,279.31 357.57,282.90 353.43,282.90" fill="#c8102e" stroke="#c8102e" stroke-width="0.9"/>
<text x="328.85" y="315.30" font-size="9.8" text-anchor="middle" fill="#222" stroke="#222" stroke-width="0.3" textLength="26.1" lengthAdjust="spacingAndGlyphs" >E:T ratio</text>
<line x1="303.00" y1="326.80" x2="310.00" y2="326.80" stroke="#c8102e" stroke-width="1"/>
<rect x="304.80" y="325.10" width="3.40" height="3.40" fill="#c8102e" stroke="#c8102e" stroke-width="0.9"/>
<text x="313.70" y="329.70" font-size="8.2" text-anchor="start" fill="#222" >V&#946;12 BBz</text>
<line x1="303.00" y1="337.50" x2="310.00" y2="337.50" stroke="#c8102e" stroke-width="1"/>
<circle cx="306.50" cy="337.50" r="1.7" fill="#c8102e" stroke="#c8102e" stroke-width="0.9"/>
<text x="313.70" y="340.40" font-size="8.2" text-anchor="start" fill="#222" >V&#946;9 BBz</text>
<line x1="303.00" y1="349.00" x2="310.00" y2="349.00" stroke="#c8102e" stroke-width="1"/>
<polygon points="306.50,347.05 308.45,350.44 304.55,350.44" fill="#c8102e" stroke="#c8102e" stroke-width="0.9"/>
<text x="313.70" y="351.90" font-size="8.2" text-anchor="start" fill="#222" >NTD</text>
<line x1="422.80" y1="208.50" x2="422.80" y2="287.50" stroke="#1a1a1a" stroke-width="1.1"/>
<line x1="422.30" y1="287.00" x2="478.00" y2="287.00" stroke="#1a1a1a" stroke-width="1.1"/>
<line x1="419.80" y1="287.00" x2="422.80" y2="287.00" stroke="#1a1a1a" stroke-width="1"/>
<text x="416.50" y="289.70" font-size="8.2" text-anchor="end" fill="#222" >&lt;1</text>
<line x1="419.80" y1="272.10" x2="422.80" y2="272.10" stroke="#1a1a1a" stroke-width="1"/>
<text x="416.50" y="274.80" font-size="8.2" text-anchor="end" fill="#222" >20</text>
<line x1="419.80" y1="257.20" x2="422.80" y2="257.20" stroke="#1a1a1a" stroke-width="1"/>
<text x="416.50" y="259.90" font-size="8.2" text-anchor="end" fill="#222" >40</text>
<line x1="419.80" y1="242.30" x2="422.80" y2="242.30" stroke="#1a1a1a" stroke-width="1"/>
<text x="416.50" y="245.00" font-size="8.2" text-anchor="end" fill="#222" >60</text>
<line x1="419.80" y1="227.40" x2="422.80" y2="227.40" stroke="#1a1a1a" stroke-width="1"/>
<text x="416.50" y="230.10" font-size="8.2" text-anchor="end" fill="#222" >80</text>
<line x1="419.80" y1="212.50" x2="422.80" y2="212.50" stroke="#1a1a1a" stroke-width="1"/>
<text x="416.50" y="215.20" font-size="8.2" text-anchor="end" fill="#222" >100</text>
<line x1="422.80" y1="287.00" x2="422.80" y2="290.00" stroke="#1a1a1a" stroke-width="1"/>
<text x="422.80" y="301.30" font-size="8.5" text-anchor="middle" fill="#222" >0.1</text>
<line x1="439.00" y1="287.00" x2="439.00" y2="290.00" stroke="#1a1a1a" stroke-width="1"/>
<text x="439.00" y="301.30" font-size="8.5" text-anchor="middle" fill="#222" >1</text>
<line x1="457.00" y1="287.00" x2="457.00" y2="290.00" stroke="#1a1a1a" stroke-width="1"/>
<text x="457.00" y="301.30" font-size="8.5" text-anchor="middle" fill="#222" >2</text>
<line x1="475.00" y1="287.00" x2="475.00" y2="290.00" stroke="#1a1a1a" stroke-width="1"/>
<text x="475.00" y="301.30" font-size="8.5" text-anchor="middle" fill="#222" >3</text>
<text x="448.75" y="199.20" font-size="8.3" text-anchor="middle" fill="#222" textLength="49" lengthAdjust="spacingAndGlyphs" >V&#946;9(+) SupT1</text>
<text x="394.00" y="249.50" font-size="9.6" text-anchor="middle" fill="#222" stroke="#222" stroke-width="0.3" textLength="23.5" lengthAdjust="spacingAndGlyphs" transform="rotate(-90 394.00 249.50)" >% Lysis</text>
<polyline points="422.80,270.61 439.00,216.97 475.00,213.99" fill="none" stroke="#1f4f8a" stroke-width="1.1"/>
<polyline points="422.80,280.30 439.00,259.44 475.00,282.53" fill="none" stroke="#1f4f8a" stroke-width="1.1"/>
<polyline points="422.80,287.00 439.00,268.38 475.00,278.06" fill="none" stroke="#1f4f8a" stroke-width="1.1"/>
<line x1="439.00" y1="256.45" x2="439.00" y2="262.42" stroke="#1f4f8a" stroke-width="1"/>
<line x1="436.50" y1="256.45" x2="441.50" y2="256.45" stroke="#1f4f8a" stroke-width="1"/>
<circle cx="439.00" cy="216.97" r="2.1" fill="#1f4f8a" stroke="#1f4f8a" stroke-width="0.9"/>
<circle cx="475.00" cy="213.99" r="2.1" fill="#1f4f8a" stroke="#1f4f8a" stroke-width="0.9"/>
<polygon points="422.80,268.19 425.22,272.40 420.38,272.40" fill="#1f4f8a" stroke="#1f4f8a" stroke-width="0.9"/>
<rect x="420.80" y="278.30" width="4.00" height="4.00" fill="#1f4f8a" stroke="#1f4f8a" stroke-width="0.9"/>
<rect x="437.00" y="257.44" width="4.00" height="4.00" fill="#1f4f8a" stroke="#1f4f8a" stroke-width="0.9"/>
<rect x="473.00" y="280.53" width="4.00" height="4.00" fill="#1f4f8a" stroke="#1f4f8a" stroke-width="0.9"/>
<polygon points="422.80,284.81 424.99,288.62 420.62,288.62" fill="#1f4f8a" stroke="#1f4f8a" stroke-width="0.9"/>
<polygon points="439.00,266.19 441.19,269.99 436.81,269.99" fill="#1f4f8a" stroke="#1f4f8a" stroke-width="0.9"/>
<polygon points="475.00,275.88 477.19,279.68 472.81,279.68" fill="#1f4f8a" stroke="#1f4f8a" stroke-width="0.9"/>
<text x="449.60" y="315.30" font-size="9.8" text-anchor="middle" fill="#222" stroke="#222" stroke-width="0.3" textLength="26.2" lengthAdjust="spacingAndGlyphs" >E:T ratio</text>
<line x1="423.30" y1="326.80" x2="430.30" y2="326.80" stroke="#1f4f8a" stroke-width="1"/>
<rect x="425.10" y="325.10" width="3.40" height="3.40" fill="#1f4f8a" stroke="#1f4f8a" stroke-width="0.9"/>
<text x="434.00" y="329.70" font-size="8.2" text-anchor="start" fill="#222" >V&#946;12 BBz</text>
<line x1="423.30" y1="337.50" x2="430.30" y2="337.50" stroke="#1f4f8a" stroke-width="1"/>
<circle cx="426.80" cy="337.50" r="1.7" fill="#1f4f8a" stroke="#1f4f8a" stroke-width="0.9"/>
<text x="434.00" y="340.40" font-size="8.2" text-anchor="start" fill="#222" >V&#946;9 BBz</text>
<line x1="423.30" y1="349.00" x2="430.30" y2="349.00" stroke="#1f4f8a" stroke-width="1"/>
<polygon points="426.80,347.05 428.75,350.44 424.85,350.44" fill="#1f4f8a" stroke="#1f4f8a" stroke-width="0.9"/>
<text x="434.00" y="351.90" font-size="8.2" text-anchor="start" fill="#222" >NTD</text>
<text x="0.80" y="383.95" font-size="11.6" text-anchor="start" fill="#000" font-weight="bold" >C</text>
<line x1="48.60" y1="383.50" x2="48.60" y2="514.00" stroke="#1a1a1a" stroke-width="1.2"/>
<line x1="48.00" y1="513.50" x2="506.50" y2="513.50" stroke="#1a1a1a" stroke-width="1.1"/>
<line x1="48.60" y1="513.50" x2="48.60" y2="516.50" stroke="#1a1a1a" stroke-width="1"/>
<line x1="66.90" y1="513.50" x2="66.90" y2="515.50" stroke="#1a1a1a" stroke-width="0.7"/>
<line x1="85.20" y1="513.50" x2="85.20" y2="515.50" stroke="#1a1a1a" stroke-width="0.7"/>
<line x1="103.50" y1="513.50" x2="103.50" y2="515.50" stroke="#1a1a1a" stroke-width="0.7"/>
<line x1="121.80" y1="513.50" x2="121.80" y2="515.50" stroke="#1a1a1a" stroke-width="0.7"/>
<line x1="140.10" y1="513.50" x2="140.10" y2="516.50" stroke="#1a1a1a" stroke-width="1"/>
<line x1="158.40" y1="513.50" x2="158.40" y2="515.50" stroke="#1a1a1a" stroke-width="0.7"/>
<line x1="176.70" y1="513.50" x2="176.70" y2="515.50" stroke="#1a1a1a" stroke-width="0.7"/>
<line x1="195.00" y1="513.50" x2="195.00" y2="515.50" stroke="#1a1a1a" stroke-width="0.7"/>
<line x1="213.30" y1="513.50" x2="213.30" y2="515.50" stroke="#1a1a1a" stroke-width="0.7"/>
<line x1="231.60" y1="513.50" x2="231.60" y2="516.50" stroke="#1a1a1a" stroke-width="1"/>
<line x1="249.90" y1="513.50" x2="249.90" y2="515.50" stroke="#1a1a1a" stroke-width="0.7"/>
<line x1="268.20" y1="513.50" x2="268.20" y2="515.50" stroke="#1a1a1a" stroke-width="0.7"/>
<line x1="286.50" y1="513.50" x2="286.50" y2="515.50" stroke="#1a1a1a" stroke-width="0.7"/>
<line x1="304.80" y1="513.50" x2="304.80" y2="515.50" stroke="#1a1a1a" stroke-width="0.7"/>
<line x1="323.10" y1="513.50" x2="323.10" y2="516.50" stroke="#1a1a1a" stroke-width="1"/>
<line x1="341.40" y1="513.50" x2="341.40" y2="515.50" stroke="#1a1a1a" stroke-width="0.7"/>
<line x1="359.70" y1="513.50" x2="359.70" y2="515.50" stroke="#1a1a1a" stroke-width="0.7"/>
<line x1="378.00" y1="513.50" x2="378.00" y2="515.50" stroke="#1a1a1a" stroke-width="0.7"/>
<line x1="396.30" y1="513.50" x2="396.30" y2="515.50" stroke="#1a1a1a" stroke-width="0.7"/>
<line x1="414.60" y1="513.50" x2="414.60" y2="516.50" stroke="#1a1a1a" stroke-width="1"/>
<line x1="432.90" y1="513.50" x2="432.90" y2="515.50" stroke="#1a1a1a" stroke-width="0.7"/>
<line x1="451.20" y1="513.50" x2="451.20" y2="515.50" stroke="#1a1a1a" stroke-width="0.7"/>
<line x1="469.50" y1="513.50" x2="469.50" y2="515.50" stroke="#1a1a1a" stroke-width="0.7"/>
<line x1="487.80" y1="513.50" x2="487.80" y2="515.50" stroke="#1a1a1a" stroke-width="0.7"/>
<line x1="506.10" y1="513.50" x2="506.10" y2="516.50" stroke="#1a1a1a" stroke-width="1"/>
<text x="48.60" y="526.70" font-size="8.4" text-anchor="middle" fill="#222" >0</text>
<text x="140.10" y="526.70" font-size="8.4" text-anchor="middle" fill="#222" >500</text>
<text x="231.60" y="526.70" font-size="8.4" text-anchor="middle" fill="#222" >1000</text>
<text x="323.10" y="526.70" font-size="8.4" text-anchor="middle" fill="#222" >1500</text>
<text x="414.60" y="526.70" font-size="8.4" text-anchor="middle" fill="#222" >2000</text>
<text x="506.10" y="526.70" font-size="8.4" text-anchor="middle" fill="#222" >2500</text>
<line x1="45.60" y1="403.20" x2="48.60" y2="403.20" stroke="#1a1a1a" stroke-width="1"/>
<line x1="45.60" y1="433.50" x2="48.60" y2="433.50" stroke="#1a1a1a" stroke-width="1"/>
<line x1="45.60" y1="463.00" x2="48.60" y2="463.00" stroke="#1a1a1a" stroke-width="1"/>
<line x1="45.60" y1="493.00" x2="48.60" y2="493.00" stroke="#1a1a1a" stroke-width="1"/>
<rect x="49.30" y="393.10" width="0.95" height="19.40" fill="#1a1030"/>
<rect x="50.20" y="393.10" width="3.65" height="19.40" fill="#869a35"/>
<rect x="53.80" y="393.10" width="1.75" height="19.40" fill="#6e1f6e"/>
<rect x="55.50" y="393.10" width="4.95" height="19.40" fill="#c44aa8"/>
<rect x="60.40" y="393.10" width="1.05" height="19.40" fill="#f4ecd8"/>
<rect x="61.40" y="393.10" width="2.65" height="19.40" fill="#f6e51e"/>
<rect x="64.00" y="393.10" width="2.05" height="19.40" fill="#e08a1a"/>
<rect x="66.00" y="393.10" width="1.25" height="19.40" fill="#f6d8bf"/>
<rect x="67.20" y="393.10" width="3.05" height="19.40" fill="#2b2a84"/>
<rect x="70.20" y="393.10" width="2.65" height="19.40" fill="#a5e3e3"/>
<rect x="72.80" y="393.10" width="2.05" height="19.40" fill="#82a08e"/>
<rect x="74.80" y="393.10" width="45.25" height="19.40" fill="#7b7b7b"/>
<rect x="49.30" y="453.20" width="3.95" height="19.30" fill="#3fae3f"/>
<rect x="53.20" y="453.20" width="6.85" height="19.30" fill="#7b1a72"/>
<rect x="60.00" y="453.20" width="6.25" height="19.30" fill="#c44aa4"/>
<rect x="66.20" y="453.20" width="1.45" height="19.30" fill="#f7e6c8"/>
<rect x="67.60" y="453.20" width="2.45" height="19.30" fill="#f6e320"/>
<rect x="70.00" y="453.20" width="3.45" height="19.30" fill="#da8a1e"/>
<rect x="73.40" y="453.20" width="1.45" height="19.30" fill="#f6d2b8"/>
<rect x="74.80" y="453.20" width="6.35" height="19.30" fill="#2b2a90"/>
<rect x="81.10" y="453.20" width="5.35" height="19.30" fill="#94d8e4"/>
<rect x="86.40" y="453.20" width="51.65" height="19.30" fill="#7b7b7b"/>
<rect x="49.70" y="483.70" width="453.80" height="18.60" fill="#c2001f" stroke="#9a0c28" stroke-width="0.8"/>
<line x1="27.30" y1="392.30" x2="27.30" y2="450.00" stroke="#222" stroke-width="0.9"/>
<line x1="27.30" y1="452.60" x2="27.30" y2="504.80" stroke="#222" stroke-width="0.9"/>
<text x="22.40" y="419.60" font-size="9" text-anchor="middle" fill="#222" textLength="51" lengthAdjust="spacingAndGlyphs" transform="rotate(-90 22.40 419.60)" >TCRv&#946;12 28z</text>
<text x="22.40" y="478.50" font-size="8.8" text-anchor="middle" fill="#222" transform="rotate(-90 22.40 478.50)" >NTD</text>
<text x="38.90" y="402.60" font-size="6.6" text-anchor="middle" fill="#222" transform="rotate(-90 38.90 402.60)" >Healthy</text>
<text x="38.90" y="433.60" font-size="6.6" text-anchor="middle" fill="#222" transform="rotate(-90 38.90 433.60)" >Malignant</text>
<text x="38.90" y="462.60" font-size="6.6" text-anchor="middle" fill="#222" transform="rotate(-90 38.90 462.60)" >Healthy</text>
<text x="38.90" y="493.00" font-size="6.6" text-anchor="middle" fill="#222" transform="rotate(-90 38.90 493.00)" >Malignant</text>
<text x="295.00" y="541.70" font-size="8.5" text-anchor="middle" fill="#222" stroke="#222" stroke-width="0.25" textLength="96.4" lengthAdjust="spacingAndGlyphs" ># CD3+TCR&#945;&#946;<tspan font-size="5.5" dy="-3.2">+</tspan><tspan dy="3.2"> patient cells</tspan></text>
<rect x="273.80" y="396.40" width="11.50" height="7.80" fill="#2e2a8c"/>
<text x="288.90" y="403.00" font-size="8.0" text-anchor="start" fill="#222" >V&#946;1</text>
<rect x="273.80" y="409.60" width="11.50" height="7.80" fill="#f7931e"/>
<text x="288.90" y="416.20" font-size="8.0" text-anchor="start" fill="#222" >V&#946;2</text>
<rect x="273.80" y="422.80" width="11.50" height="7.80" fill="#3aaa35"/>
<text x="288.90" y="429.40" font-size="8.0" text-anchor="start" fill="#222" >V&#946;3</text>
<rect x="273.80" y="435.90" width="11.50" height="7.80" fill="#9446a8"/>
<text x="288.90" y="442.50" font-size="8.0" text-anchor="start" fill="#222" >V&#946;4</text>
<rect x="273.80" y="449.10" width="11.50" height="7.80" fill="#f7941d"/>
<text x="288.90" y="455.70" font-size="8.0" text-anchor="start" fill="#222" >V&#946;5.1</text>
<rect x="312.50" y="396.40" width="11.50" height="7.80" fill="#000000"/>
<text x="327.60" y="403.00" font-size="8.0" text-anchor="start" fill="#222" >V&#946;5.2</text>
<rect x="312.50" y="409.60" width="11.50" height="7.80" fill="#a27a30"/>
<text x="327.60" y="416.20" font-size="8.0" text-anchor="start" fill="#222" >V&#946;5.3</text>
<rect x="312.50" y="422.80" width="11.50" height="7.80" fill="#222a80"/>
<text x="327.60" y="429.40" font-size="8.0" text-anchor="start" fill="#222" >V&#946;7.1</text>
<rect x="312.50" y="435.90" width="11.50" height="7.80" fill="#7a0f6a"/>
<text x="327.60" y="442.50" font-size="8.0" text-anchor="start" fill="#222" >V&#946;7.2</text>
<rect x="312.50" y="449.10" width="11.50" height="7.80" fill="#c455a8"/>
<text x="327.60" y="455.70" font-size="8.0" text-anchor="start" fill="#222" >V&#946;8</text>
<rect x="356.20" y="396.40" width="11.50" height="7.80" fill="#1e7a22"/>
<text x="371.30" y="403.00" font-size="8.0" text-anchor="start" fill="#222" >V&#946;9</text>
<rect x="356.20" y="409.60" width="11.50" height="7.80" fill="#f8c394"/>
<text x="371.30" y="416.20" font-size="8.0" text-anchor="start" fill="#222" >V&#946;11</text>
<rect x="356.20" y="422.80" width="11.50" height="7.80" fill="#c8102e"/>
<text x="371.30" y="429.40" font-size="8.0" text-anchor="start" fill="#222" font-weight="bold" >V&#946;12</text>
<rect x="356.20" y="435.90" width="11.50" height="7.80" fill="#a3cff2"/>
<text x="371.30" y="442.50" font-size="8.0" text-anchor="start" fill="#222" >V&#946;13.1</text>
<rect x="356.20" y="449.10" width="11.50" height="7.80" fill="#cbcbed"/>
<text x="371.30" y="455.70" font-size="8.0" text-anchor="start" fill="#222" >V&#946;13.2</text>
<rect x="404.00" y="396.40" width="11.50" height="7.80" fill="#7c7c7c"/>
<text x="419.10" y="403.00" font-size="8.0" text-anchor="start" fill="#222" >V&#946;13.6</text>
<rect x="404.00" y="409.60" width="11.50" height="7.80" fill="#f7ea1c"/>
<text x="419.10" y="416.20" font-size="8.0" text-anchor="start" fill="#222" >V&#946;14</text>
<rect x="404.00" y="422.80" width="11.50" height="7.80" fill="#d9731a"/>
<text x="419.10" y="429.40" font-size="8.0" text-anchor="start" fill="#222" >V&#946;16</text>
<rect x="404.00" y="435.90" width="11.50" height="7.80" fill="#d9d9d9"/>
<text x="419.10" y="442.50" font-size="8.0" text-anchor="start" fill="#222" >V&#946;17</text>
<rect x="404.00" y="449.10" width="11.50" height="7.80" fill="#cbbd22"/>
<text x="419.10" y="455.70" font-size="8.0" text-anchor="start" fill="#222" >V&#946;18</text>
<rect x="452.70" y="396.40" width="11.50" height="7.80" fill="#2a2a8f"/>
<text x="467.80" y="403.00" font-size="8.0" text-anchor="start" fill="#222" >V&#946;20</text>
<rect x="452.70" y="409.60" width="11.50" height="7.80" fill="#8ed4d6"/>
<text x="467.80" y="416.20" font-size="8.0" text-anchor="start" fill="#222" >V&#946;21.3</text>
<rect x="452.70" y="422.80" width="11.50" height="7.80" fill="#48b04a"/>
<text x="467.80" y="429.40" font-size="8.0" text-anchor="start" fill="#222" >V&#946;22</text>
<rect x="452.70" y="435.90" width="11.50" height="7.80" fill="#8e44a5"/>
<text x="467.80" y="442.50" font-size="8.0" text-anchor="start" fill="#222" >V&#946;23</text>
<rect x="452.70" y="449.10" width="11.50" height="7.80" fill="#808080"/>
<text x="467.80" y="455.70" font-size="8.0" text-anchor="start" fill="#222" >Other</text>
<text x="0.80" y="572.15" font-size="11.6" text-anchor="start" fill="#000" font-weight="bold" >D</text>
<line x1="49.10" y1="592.50" x2="49.10" y2="614.50" stroke="#1a1a1a" stroke-width="1.1"/>
<line x1="49.10" y1="620.50" x2="49.10" y2="685.70" stroke="#1a1a1a" stroke-width="1.1"/>
<line x1="46.60" y1="615.80" x2="51.60" y2="613.30" stroke="#1a1a1a" stroke-width="1"/>
<line x1="46.60" y1="621.80" x2="51.60" y2="619.30" stroke="#1a1a1a" stroke-width="1"/>
<line x1="46.10" y1="614.00" x2="49.10" y2="614.00" stroke="#1a1a1a" stroke-width="1"/>
<text x="41.60" y="616.70" font-size="8.0" text-anchor="end" fill="#222" >50</text>
<line x1="46.10" y1="604.45" x2="49.10" y2="604.45" stroke="#1a1a1a" stroke-width="1"/>
<text x="41.60" y="607.15" font-size="8.0" text-anchor="end" fill="#222" >75</text>
<line x1="46.10" y1="594.90" x2="49.10" y2="594.90" stroke="#1a1a1a" stroke-width="1"/>
<text x="41.60" y="597.60" font-size="8.0" text-anchor="end" fill="#222" >100</text>
<line x1="46.10" y1="685.20" x2="49.10" y2="685.20" stroke="#1a1a1a" stroke-width="1"/>
<text x="41.60" y="687.90" font-size="8.0" text-anchor="end" fill="#222" >0</text>
<line x1="46.10" y1="672.50" x2="49.10" y2="672.50" stroke="#1a1a1a" stroke-width="1"/>
<text x="41.60" y="675.20" font-size="8.0" text-anchor="end" fill="#222" >2</text>
<line x1="46.10" y1="659.80" x2="49.10" y2="659.80" stroke="#1a1a1a" stroke-width="1"/>
<text x="41.60" y="662.50" font-size="8.0" text-anchor="end" fill="#222" >4</text>
<line x1="46.10" y1="647.10" x2="49.10" y2="647.10" stroke="#1a1a1a" stroke-width="1"/>
<text x="41.60" y="649.80" font-size="8.0" text-anchor="end" fill="#222" >6</text>
<line x1="46.10" y1="634.40" x2="49.10" y2="634.40" stroke="#1a1a1a" stroke-width="1"/>
<text x="41.60" y="637.10" font-size="8.0" text-anchor="end" fill="#222" >8</text>
<line x1="46.10" y1="621.70" x2="49.10" y2="621.70" stroke="#1a1a1a" stroke-width="1"/>
<text x="41.60" y="624.40" font-size="8.0" text-anchor="end" fill="#222" >10</text>
<line x1="48.60" y1="685.20" x2="282.00" y2="685.20" stroke="#1a1a1a" stroke-width="1.1"/>
<line x1="55.20" y1="685.20" x2="55.20" y2="687.80" stroke="#1a1a1a" stroke-width="0.9"/>
<text x="57.60" y="691.60" font-size="8.0" text-anchor="end" fill="#222" transform="rotate(-90 57.60 691.60)" >V&#946;1</text>
<rect x="52.00" y="682.66" width="6.40" height="2.54" fill="#c0122f"/>
<line x1="64.78" y1="685.20" x2="64.78" y2="687.80" stroke="#1a1a1a" stroke-width="0.9"/>
<text x="67.18" y="691.60" font-size="8.0" text-anchor="end" fill="#222" transform="rotate(-90 67.18 691.60)" >V&#946;2</text>
<rect x="61.58" y="684.88" width="6.40" height="0.32" fill="#c0122f"/>
<line x1="74.36" y1="685.20" x2="74.36" y2="687.80" stroke="#1a1a1a" stroke-width="0.9"/>
<text x="76.76" y="691.60" font-size="8.0" text-anchor="end" fill="#222" transform="rotate(-90 76.76 691.60)" >V&#946;3</text>
<line x1="83.94" y1="685.20" x2="83.94" y2="687.80" stroke="#1a1a1a" stroke-width="0.9"/>
<text x="86.34" y="691.60" font-size="8.0" text-anchor="end" fill="#222" transform="rotate(-90 86.34 691.60)" >V&#946;4</text>
<line x1="93.52" y1="685.20" x2="93.52" y2="687.80" stroke="#1a1a1a" stroke-width="0.9"/>
<text x="95.92" y="691.60" font-size="8.0" text-anchor="end" fill="#222" transform="rotate(-90 95.92 691.60)" >V&#946;5.1</text>
<rect x="90.22" y="596.00" width="6.60" height="18.00" fill="#ef9618"/>
<rect x="90.22" y="621.30" width="6.60" height="63.90" fill="#ef9618"/>
<line x1="103.10" y1="685.20" x2="103.10" y2="687.80" stroke="#1a1a1a" stroke-width="0.9"/>
<text x="105.50" y="691.60" font-size="8.0" text-anchor="end" fill="#222" transform="rotate(-90 105.50 691.60)" >V&#946;5.2</text>
<line x1="112.68" y1="685.20" x2="112.68" y2="687.80" stroke="#1a1a1a" stroke-width="0.9"/>
<text x="115.08" y="691.60" font-size="8.0" text-anchor="end" fill="#222" transform="rotate(-90 115.08 691.60)" >V&#946;5.3</text>
<line x1="122.26" y1="685.20" x2="122.26" y2="687.80" stroke="#1a1a1a" stroke-width="0.9"/>
<text x="124.66" y="691.60" font-size="8.0" text-anchor="end" fill="#222" transform="rotate(-90 124.66 691.60)" >V&#946;7.1</text>
<rect x="119.06" y="681.39" width="6.40" height="3.81" fill="#c0122f"/>
<line x1="131.84" y1="685.20" x2="131.84" y2="687.80" stroke="#1a1a1a" stroke-width="0.9"/>
<text x="134.24" y="691.60" font-size="8.0" text-anchor="end" fill="#222" transform="rotate(-90 134.24 691.60)" >V&#946;7.2</text>
<line x1="141.42" y1="685.20" x2="141.42" y2="687.80" stroke="#1a1a1a" stroke-width="0.9"/>
<text x="143.82" y="691.60" font-size="8.0" text-anchor="end" fill="#222" transform="rotate(-90 143.82 691.60)" >V&#946;8</text>
<rect x="138.22" y="676.31" width="6.40" height="8.89" fill="#c0122f"/>
<line x1="151.00" y1="685.20" x2="151.00" y2="687.80" stroke="#1a1a1a" stroke-width="0.9"/>
<text x="153.40" y="691.60" font-size="8.0" text-anchor="end" fill="#222" transform="rotate(-90 153.40 691.60)" >V&#946;9</text>
<line x1="160.58" y1="685.20" x2="160.58" y2="687.80" stroke="#1a1a1a" stroke-width="0.9"/>
<text x="162.98" y="691.60" font-size="8.0" text-anchor="end" fill="#222" transform="rotate(-90 162.98 691.60)" >V&#946;11</text>
<line x1="170.16" y1="685.20" x2="170.16" y2="687.80" stroke="#1a1a1a" stroke-width="0.9"/>
<text x="172.56" y="691.60" font-size="8.0" text-anchor="end" fill="#222" transform="rotate(-90 172.56 691.60)" >V&#946;12</text>
<rect x="166.96" y="684.88" width="6.40" height="0.32" fill="#c0122f"/>
<line x1="179.74" y1="685.20" x2="179.74" y2="687.80" stroke="#1a1a1a" stroke-width="0.9"/>
<text x="182.14" y="691.60" font-size="8.0" text-anchor="end" fill="#222" transform="rotate(-90 182.14 691.60)" >V&#946;13.1</text>
<line x1="189.32" y1="685.20" x2="189.32" y2="687.80" stroke="#1a1a1a" stroke-width="0.9"/>
<text x="191.72" y="691.60" font-size="8.0" text-anchor="end" fill="#222" transform="rotate(-90 191.72 691.60)" >V&#946;13.2</text>
<line x1="198.90" y1="685.20" x2="198.90" y2="687.80" stroke="#1a1a1a" stroke-width="0.9"/>
<text x="201.30" y="691.60" font-size="8.0" text-anchor="end" fill="#222" transform="rotate(-90 201.30 691.60)" >V&#946;13.6</text>
<rect x="195.70" y="683.80" width="6.40" height="1.40" fill="#c0122f"/>
<line x1="208.48" y1="685.20" x2="208.48" y2="687.80" stroke="#1a1a1a" stroke-width="0.9"/>
<text x="210.88" y="691.60" font-size="8.0" text-anchor="end" fill="#222" transform="rotate(-90 210.88 691.60)" >V&#946;14</text>
<rect x="205.28" y="679.49" width="6.40" height="5.72" fill="#c0122f"/>
<line x1="218.06" y1="685.20" x2="218.06" y2="687.80" stroke="#1a1a1a" stroke-width="0.9"/>
<text x="220.46" y="691.60" font-size="8.0" text-anchor="end" fill="#222" transform="rotate(-90 220.46 691.60)" >V&#946;16</text>
<rect x="214.86" y="683.93" width="6.40" height="1.27" fill="#c0122f"/>
<line x1="227.64" y1="685.20" x2="227.64" y2="687.80" stroke="#1a1a1a" stroke-width="0.9"/>
<text x="230.04" y="691.60" font-size="8.0" text-anchor="end" fill="#222" transform="rotate(-90 230.04 691.60)" >V&#946;17</text>
<rect x="224.44" y="682.03" width="6.40" height="3.17" fill="#c0122f"/>
<line x1="237.22" y1="685.20" x2="237.22" y2="687.80" stroke="#1a1a1a" stroke-width="0.9"/>
<text x="239.62" y="691.60" font-size="8.0" text-anchor="end" fill="#222" transform="rotate(-90 239.62 691.60)" >V&#946;18</text>
<line x1="246.80" y1="685.20" x2="246.80" y2="687.80" stroke="#1a1a1a" stroke-width="0.9"/>
<text x="249.20" y="691.60" font-size="8.0" text-anchor="end" fill="#222" transform="rotate(-90 249.20 691.60)" >V&#946;20</text>
<rect x="243.60" y="676.31" width="6.40" height="8.89" fill="#c0122f"/>
<line x1="256.38" y1="685.20" x2="256.38" y2="687.80" stroke="#1a1a1a" stroke-width="0.9"/>
<text x="258.78" y="691.60" font-size="8.0" text-anchor="end" fill="#222" transform="rotate(-90 258.78 691.60)" >V&#946;21.3</text>
<line x1="265.96" y1="685.20" x2="265.96" y2="687.80" stroke="#1a1a1a" stroke-width="0.9"/>
<text x="268.36" y="691.60" font-size="8.0" text-anchor="end" fill="#222" transform="rotate(-90 268.36 691.60)" >V&#946;22</text>
<rect x="262.76" y="682.98" width="6.40" height="2.22" fill="#c0122f"/>
<line x1="275.54" y1="685.20" x2="275.54" y2="687.80" stroke="#1a1a1a" stroke-width="0.9"/>
<text x="277.94" y="691.60" font-size="8.0" text-anchor="end" fill="#222" transform="rotate(-90 277.94 691.60)" >V&#946;23</text>
<rect x="272.34" y="684.57" width="6.40" height="0.63" fill="#c0122f"/>
<text x="21.40" y="637.80" font-size="9.8" text-anchor="middle" fill="#222" stroke="#222" stroke-width="0.3" textLength="107" lengthAdjust="spacingAndGlyphs" transform="rotate(-90 21.40 637.80)" >% CD3<tspan font-size="6" dy="-3.5">+</tspan><tspan dy="3.5"> T cells from s&#233;zary patient</tspan></text>
<line x1="332.80" y1="591.00" x2="332.80" y2="686.40" stroke="#1a1a1a" stroke-width="1.1"/>
<line x1="332.30" y1="685.90" x2="388.00" y2="685.90" stroke="#1a1a1a" stroke-width="1.1"/>
<line x1="329.80" y1="685.90" x2="332.80" y2="685.90" stroke="#1a1a1a" stroke-width="1"/>
<text x="326.30" y="688.60" font-size="8.2" text-anchor="end" fill="#222" >&lt;1</text>
<line x1="329.80" y1="667.60" x2="332.80" y2="667.60" stroke="#1a1a1a" stroke-width="1"/>
<text x="326.30" y="670.30" font-size="8.2" text-anchor="end" fill="#222" >20</text>
<line x1="329.80" y1="649.30" x2="332.80" y2="649.30" stroke="#1a1a1a" stroke-width="1"/>
<text x="326.30" y="652.00" font-size="8.2" text-anchor="end" fill="#222" >40</text>
<line x1="329.80" y1="631.00" x2="332.80" y2="631.00" stroke="#1a1a1a" stroke-width="1"/>
<text x="326.30" y="633.70" font-size="8.2" text-anchor="end" fill="#222" >60</text>
<line x1="329.80" y1="612.70" x2="332.80" y2="612.70" stroke="#1a1a1a" stroke-width="1"/>
<text x="326.30" y="615.40" font-size="8.2" text-anchor="end" fill="#222" >80</text>
<line x1="329.80" y1="594.40" x2="332.80" y2="594.40" stroke="#1a1a1a" stroke-width="1"/>
<text x="326.30" y="597.10" font-size="8.2" text-anchor="end" fill="#222" >100</text>
<line x1="344.50" y1="685.90" x2="344.50" y2="688.90" stroke="#1a1a1a" stroke-width="1"/>
<text x="344.50" y="698.70" font-size="8.0" text-anchor="middle" fill="#333" textLength="6.6" lengthAdjust="spacingAndGlyphs" >Dz</text>
<line x1="363.20" y1="685.90" x2="363.20" y2="688.90" stroke="#1a1a1a" stroke-width="1"/>
<text x="363.20" y="698.70" font-size="8.0" text-anchor="middle" fill="#333" textLength="10.4" lengthAdjust="spacingAndGlyphs" >28z</text>
<line x1="381.40" y1="685.90" x2="381.40" y2="688.90" stroke="#1a1a1a" stroke-width="1"/>
<text x="381.40" y="698.70" font-size="8.0" text-anchor="middle" fill="#333" textLength="12.1" lengthAdjust="spacingAndGlyphs" >BBz</text>
<rect x="357.60" y="609.04" width="11.60" height="76.86" fill="#f5b86e"/>
<rect x="375.20" y="607.21" width="12.00" height="78.69" fill="#f5b86e"/>
<polygon points="342.00,683.25 343.95,686.65 340.05,686.65" fill="#ef9618" stroke="#ef9618" stroke-width="0.9"/>
<polygon points="344.50,683.25 346.45,686.65 342.55,686.65" fill="#ef9618" stroke="#ef9618" stroke-width="0.9"/>
<polygon points="347.00,683.25 348.95,686.65 345.05,686.65" fill="#ef9618" stroke="#ef9618" stroke-width="0.9"/>
<circle cx="360.90" cy="606.29" r="2.0" fill="#ef9618"/>
<circle cx="365.90" cy="608.12" r="2.0" fill="#ef9618"/>
<circle cx="361.20" cy="612.70" r="2.0" fill="#ef9618"/>
<circle cx="364.90" cy="610.41" r="2.0" fill="#ef9618"/>
<circle cx="378.70" cy="606.29" r="2.0" fill="#ef9618"/>
<circle cx="381.70" cy="605.38" r="2.0" fill="#ef9618"/>
<circle cx="384.20" cy="606.75" r="2.0" fill="#ef9618"/>
<circle cx="380.20" cy="607.67" r="2.0" fill="#ef9618"/>
<polyline points="345.10,683.00 345.10,595.10 364.10,595.10 364.10,603.50" fill="none" stroke="#3a3a3a" stroke-width="1"/>
<polyline points="345.10,595.10 345.10,580.00 381.20,580.00 381.20,602.80" fill="none" stroke="#3a3a3a" stroke-width="1"/>
<text x="354.10" y="593.40" font-size="8" text-anchor="middle" fill="#222" font-weight="bold" textLength="14.4" lengthAdjust="spacingAndGlyphs" >****</text>
<text x="363.30" y="577.90" font-size="8" text-anchor="middle" fill="#222" font-weight="bold" textLength="15" lengthAdjust="spacingAndGlyphs" >****</text>
<text x="363.30" y="711.80" font-size="10" text-anchor="middle" fill="#222" stroke="#222" stroke-width="0.35" textLength="13.2" lengthAdjust="spacingAndGlyphs" >CAR</text>
<text x="305.60" y="640.10" font-size="9.8" text-anchor="middle" fill="#222" stroke="#222" stroke-width="0.15" textLength="60.2" lengthAdjust="spacingAndGlyphs" transform="rotate(-90 305.60 640.10)" >% Lysis APC<tspan font-size="6" dy="-3.5">+</tspan><tspan dy="3.5"> cells</tspan></text>
<text x="423.00" y="642.50" font-size="9.8" text-anchor="middle" fill="#222" stroke="#222" stroke-width="0.15" textLength="65.8" lengthAdjust="spacingAndGlyphs" transform="rotate(-90 423.00 642.50)" >% Lysis APC<tspan font-size="6" dy="-3.5">+</tspan><tspan dy="3.5"> cells</tspan></text>
<line x1="448.90" y1="590.50" x2="448.90" y2="686.30" stroke="#1a1a1a" stroke-width="1.1"/>
<line x1="448.40" y1="685.80" x2="514.00" y2="685.80" stroke="#1a1a1a" stroke-width="1.1"/>
<line x1="445.90" y1="685.80" x2="448.90" y2="685.80" stroke="#1a1a1a" stroke-width="1"/>
<text x="442.60" y="688.50" font-size="8.2" text-anchor="end" fill="#222" >&lt;1</text>
<line x1="445.90" y1="667.56" x2="448.90" y2="667.56" stroke="#1a1a1a" stroke-width="1"/>
<text x="442.60" y="670.26" font-size="8.2" text-anchor="end" fill="#222" >20</text>
<line x1="445.90" y1="649.32" x2="448.90" y2="649.32" stroke="#1a1a1a" stroke-width="1"/>
<text x="442.60" y="652.02" font-size="8.2" text-anchor="end" fill="#222" >40</text>
<line x1="445.90" y1="631.08" x2="448.90" y2="631.08" stroke="#1a1a1a" stroke-width="1"/>
<text x="442.60" y="633.78" font-size="8.2" text-anchor="end" fill="#222" >60</text>
<line x1="445.90" y1="612.84" x2="448.90" y2="612.84" stroke="#1a1a1a" stroke-width="1"/>
<text x="442.60" y="615.54" font-size="8.2" text-anchor="end" fill="#222" >80</text>
<line x1="445.90" y1="594.60" x2="448.90" y2="594.60" stroke="#1a1a1a" stroke-width="1"/>
<text x="442.60" y="597.30" font-size="8.2" text-anchor="end" fill="#222" >100</text>
<line x1="449.69" y1="685.80" x2="449.69" y2="688.80" stroke="#1a1a1a" stroke-width="1"/>
<text x="449.69" y="701.00" font-size="8.5" text-anchor="middle" fill="#222" >0.1</text>
<line x1="468.50" y1="685.80" x2="468.50" y2="688.80" stroke="#1a1a1a" stroke-width="1"/>
<text x="468.50" y="701.00" font-size="8.5" text-anchor="middle" fill="#222" >1</text>
<line x1="489.40" y1="685.80" x2="489.40" y2="688.80" stroke="#1a1a1a" stroke-width="1"/>
<text x="489.40" y="701.00" font-size="8.5" text-anchor="middle" fill="#222" >2</text>
<line x1="510.30" y1="685.80" x2="510.30" y2="688.80" stroke="#1a1a1a" stroke-width="1"/>
<text x="510.30" y="701.00" font-size="8.5" text-anchor="middle" fill="#222" >3</text>
<polyline points="449.69,670.30 468.50,611.93 510.30,607.37" fill="none" stroke="#ef9618" stroke-width="1.1"/>
<polyline points="449.69,675.77 468.50,621.05 510.30,610.10" fill="none" stroke="#ef9618" stroke-width="1.1"/>
<polyline points="449.69,685.80 468.50,685.80 510.30,685.80" fill="none" stroke="#ef9618" stroke-width="1.1"/>
<line x1="468.50" y1="608.28" x2="468.50" y2="615.58" stroke="#ef9618" stroke-width="1"/>
<line x1="466.00" y1="608.28" x2="471.00" y2="608.28" stroke="#ef9618" stroke-width="1"/>
<line x1="510.30" y1="604.63" x2="510.30" y2="613.75" stroke="#ef9618" stroke-width="1"/>
<line x1="507.80" y1="604.63" x2="512.80" y2="604.63" stroke="#ef9618" stroke-width="1"/>
<line x1="507.80" y1="613.75" x2="512.80" y2="613.75" stroke="#ef9618" stroke-width="1"/>
<line x1="449.69" y1="666.65" x2="449.69" y2="678.50" stroke="#ef9618" stroke-width="1"/>
<line x1="447.19" y1="666.65" x2="452.19" y2="666.65" stroke="#ef9618" stroke-width="1"/>
<rect x="447.49" y="668.10" width="4.40" height="4.40" fill="#ef9618" stroke="#ef9618" stroke-width="0.9"/>
<rect x="466.00" y="609.43" width="5.00" height="5.00" fill="#ef9618" stroke="#ef9618" stroke-width="0.9"/>
<rect x="507.80" y="604.41" width="5.00" height="5.00" fill="#ef9618" stroke="#ef9618" stroke-width="0.9"/>
<circle cx="449.69" cy="675.77" r="2.2" fill="#ef9618" stroke="#ef9618" stroke-width="0.9"/>
<circle cx="468.50" cy="621.05" r="2.2" fill="#ef9618" stroke="#ef9618" stroke-width="0.9"/>
<circle cx="510.30" cy="610.10" r="2.2" fill="#ef9618" stroke="#ef9618" stroke-width="0.9"/>
<polygon points="449.69,683.50 451.99,687.50 447.39,687.50" fill="#ef9618" stroke="#ef9618" stroke-width="0.9"/>
<polygon points="468.50,683.50 470.80,687.50 466.20,687.50" fill="#ef9618" stroke="#ef9618" stroke-width="0.9"/>
<polygon points="510.30,683.50 512.60,687.50 508.00,687.50" fill="#ef9618" stroke="#ef9618" stroke-width="0.9"/>
<text x="480.20" y="714.20" font-size="10.4" text-anchor="middle" fill="#222" stroke="#222" stroke-width="0.3" textLength="26.6" lengthAdjust="spacingAndGlyphs" >E:T ratio</text>
<line x1="487.60" y1="645.80" x2="496.20" y2="645.80" stroke="#ef9618" stroke-width="1"/>
<polygon points="491.90,643.38 494.31,647.58 489.48,647.58" fill="#ef9618" stroke="#ef9618" stroke-width="0.9"/>
<text x="500.80" y="648.80" font-size="8.5" text-anchor="start" fill="#222" >Dz</text>
<line x1="487.60" y1="656.50" x2="496.20" y2="656.50" stroke="#ef9618" stroke-width="1"/>
<circle cx="491.90" cy="656.50" r="2.1" fill="#ef9618" stroke="#ef9618" stroke-width="0.9"/>
<text x="500.80" y="659.50" font-size="8.5" text-anchor="start" fill="#222" >28z</text>
<line x1="487.60" y1="667.30" x2="496.20" y2="667.30" stroke="#ef9618" stroke-width="1"/>
<rect x="489.80" y="665.20" width="4.20" height="4.20" fill="#ef9618" stroke="#ef9618" stroke-width="0.9"/>
<text x="500.80" y="670.30" font-size="8.5" text-anchor="start" fill="#222" >BBz</text>
</svg>
</body></html>
